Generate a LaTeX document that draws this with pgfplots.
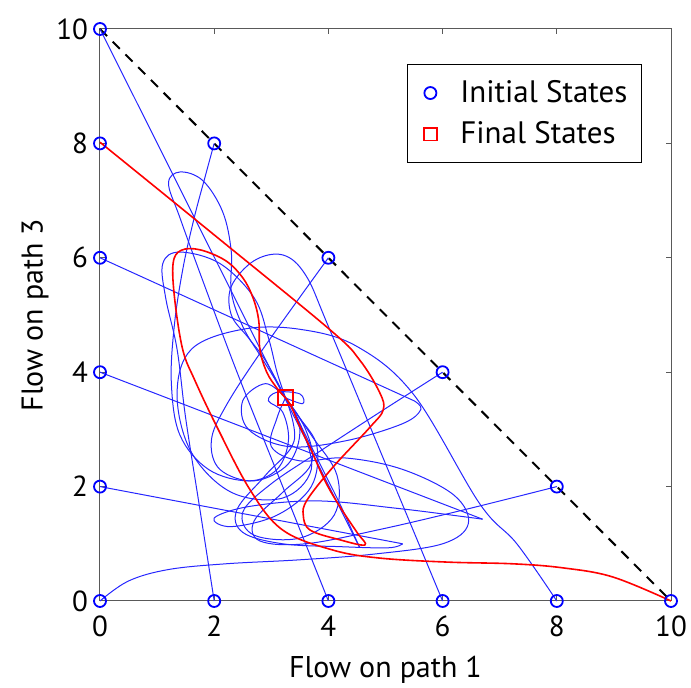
\documentclass[border=0pt]{standalone}
\usepackage{fontspec}
\setmainfont{PT Sans}
\usepackage{pgfplots}
\pgfplotsset{compat=1.18}
\begin{document}
\begin{tikzpicture}
\useasboundingbox (-50pt,-43.5pt) rectangle (295.5pt,300.5pt);
\begin{axis}[
  at={(0,0)}, anchor=south west,
  scale only axis, width=285.5pt, height=286pt,
  xmin=0, xmax=10, ymin=0, ymax=10,
  xtick={0,2,...,10}, ytick={0,2,...,10},
  tick align=inside, major tick length=2.5pt,
  axis line style={black!65, line width=0.5pt},
  every tick/.style={black!65, line width=0.5pt},
  clip=false,
  /pgf/number format/assume math mode=true,
  ticklabel style={font=\fontsize{14.5}{16}\selectfont},
  xticklabel style={yshift=-4pt},
  yticklabel style={xshift=-2.5pt},
  xlabel={Flow on path 1}, ylabel={Flow on path 3},
  label style={font=\fontsize{15}{17}\selectfont},
  xlabel style={at={(axis description cs:0.5,-0.1206)}, anchor=center},
  ylabel style={at={(axis description cs:-0.1138,0.5)}, anchor=center, rotate=0},
  legend style={at={(axis description cs:0.9492,0.9388)}, anchor=north east,
    draw=black, line width=0.5pt, inner xsep=5pt, inner ysep=6pt,
    font=\fontsize{15.5}{18}\selectfont, row sep=4pt,
    /tikz/every odd column/.style={column sep=4pt}},
  legend image code/.code={\path (0.09cm,0) (0.6cm,0); \draw[#1] plot coordinates {(0.3cm,0cm)};},
  legend cell align=left,
]
\addlegendimage{only marks, mark=o, blue, mark size=3pt, line width=0.9pt}
\addlegendentry{Initial States}
\addlegendimage{only marks, mark=square, red, mark size=3.2pt, line width=0.8pt}
\addlegendentry{Final States}

% dashed simplex edge
\addplot[forget plot, black, line width=1pt, dash pattern=on 5pt off 4pt] coordinates {(0,10) (10,0)};

% blue trajectories
\pgfplotsset{btraj/.style={forget plot, blue!85!white, line width=0.5pt, smooth, tension=0.6}}
% from (0,10)
\addplot[btraj, sharp plot] coordinates {(0,10) (4.55,0.93)};
\addplot[btraj] coordinates {(4.55,0.93) (4.45,1.15) (4.2,1.7) (3.9,2.3) (3.6,2.9) (3.4,3.3) (3.25,3.55)};
% from (2,8)
\addplot[btraj] coordinates {(2,8) (1.85,7.45) (1.65,6.7) (1.45,5.8) (1.3,4.8) (1.25,3.8) (1.4,2.9) (1.9,2.3) (2.6,2.1) (3.1,2.3) (3.3,2.8) (3.2,3.3) (2.95,3.5) (3.1,3.65) (3.5,3.62) (3.55,3.45) (3.25,3.55)};
% from (4,0)
\addplot[btraj] coordinates {(4,0) (3.2,2.0) (2.4,4.0) (1.8,5.6) (1.4,6.7) (1.2,7.3) (1.4,7.5) (1.8,7.35) (2.15,6.8) (2.3,6.1) (2.3,5.4) (2.5,4.8) (2.8,4.3) (3.05,3.9) (3.25,3.55)};
% from (6,0)
\addplot[btraj] coordinates {(6,0) (5.0,2.4) (4.0,4.8) (3.6,5.7) (3.2,6.05) (2.7,5.95) (2.3,5.5) (2.3,5.0) (2.6,4.6) (2.9,4.2) (3.25,3.55)};
% from (8,0)
\addplot[btraj] coordinates {(8,0) (7.3,1.0) (6.65,1.7) (5.5,3.6) (4.5,4.45) (3.5,4.75) (2.5,4.75) (1.6,4.4) (1.35,3.6) (1.6,2.6) (2.3,1.9) (3.2,1.8) (3.7,2.3) (3.5,3.1) (3.25,3.55)};
% from (0,6)
\addplot[btraj, sharp plot] coordinates {(0,6) (5.5,3.5)};
\addplot[btraj] coordinates {(5.5,3.5) (5.62,3.35) (5.3,3.1) (4.3,2.8) (3.3,2.7) (2.6,3.0) (2.5,3.5) (2.9,3.8) (3.25,3.55)};
% from (0,4)
\addplot[btraj, sharp plot] coordinates {(0,4) (6.7,1.43)};
\addplot[btraj] coordinates {(6.7,1.43) (6.4,1.47) (5.2,1.62) (3.8,1.75) (2.6,1.65) (2.0,1.45) (2.3,1.3) (3.1,1.5) (3.7,2.0) (3.8,2.7) (3.5,3.2) (3.25,3.55)};
% from (0,2)
\addplot[btraj, sharp plot] coordinates {(0,2) (5.3,1.0)};
\addplot[btraj] coordinates {(5.3,1.0) (5.05,0.93) (4.2,0.95) (3.2,1.0) (2.5,1.2) (2.4,1.6) (2.9,2.2) (3.4,2.8) (3.25,3.55)};
% from (0,0)
\addplot[btraj] coordinates {(0,0) (0.5,0.35) (1.2,0.55) (2.2,0.65) (3.5,0.72) (4.8,0.82) (6.0,1.0) (6.45,1.35) (6.2,1.85) (5.3,2.3) (4.3,2.5) (3.5,2.45) (3.0,2.7) (3.1,3.2) (3.25,3.55)};
% from (2,0)
\addplot[btraj] coordinates {(2,0) (1.75,1.6) (1.5,3.2) (1.35,4.4) (1.15,5.3) (1.1,5.9) (1.4,6.1) (2.1,5.9) (2.7,5.3) (2.95,4.6) (3.1,4.0) (3.25,3.55)};
% from (4,6)
\addplot[btraj] coordinates {(4,6) (2.85,4.4) (2.2,3.4) (1.95,2.8) (2.1,2.3) (2.7,2.1) (3.3,2.4) (3.5,3.0) (3.25,3.55)};
% from (6,4)
\addplot[btraj] coordinates {(6,4) (4.9,3.3) (3.9,2.65) (3.0,2.05) (2.5,1.55) (2.7,1.15) (3.5,1.1) (4.1,1.5) (4.15,2.2) (3.7,2.9) (3.25,3.55)};
% from (8,2)
\addplot[btraj] coordinates {(8,2) (6.4,1.6) (4.9,1.25) (3.6,1.0) (2.8,1.05) (2.7,1.4) (3.2,1.9) (3.7,2.4) (3.6,3.0) (3.25,3.55)};

% red trajectories
\pgfplotsset{rtraj/.style={forget plot, red, line width=0.8pt, smooth, tension=0.6}}
\addplot[rtraj] coordinates {(0,8.02) (2.0,6.4) (4.03,4.74) (4.55,4.21) (4.9,3.64) (4.96,3.34) (4.73,3.04) (4.08,2.34) (3.63,1.77) (3.56,1.5) (3.68,1.24) (4.2,1.07) (4.64,0.98) (4.5,1.2) (4.2,1.65) (3.94,2.1) (3.68,2.68) (3.5,3.05) (3.35,3.4) (3.25,3.55)};
\addplot[rtraj] coordinates {(10,0) (8.98,0.42) (8.1,0.58) (7.23,0.65) (6.08,0.68) (4.9,0.75) (4.08,0.89) (3.2,1.24) (2.63,1.94) (2.05,3.04) (1.66,3.86) (1.45,4.39) (1.31,5.26) (1.28,5.9) (1.42,6.13) (1.75,6.14) (2.2,5.95) (2.5,5.65) (2.68,5.3) (2.78,4.9) (2.8,4.4) (2.92,4.0) (3.1,3.72) (3.25,3.55)};

% initial states
\addplot[forget plot, only marks, mark=o, blue, mark size=3pt, line width=0.9pt] coordinates {
(0,0) (2,0) (4,0) (6,0) (8,0) (10,0) (0,2) (0,4) (0,6) (0,8) (0,10) (2,8) (4,6) (6,4) (8,2)};
% final state
\addplot[forget plot, only marks, mark=square, red, mark size=3.75pt, line width=1pt] coordinates {(3.25,3.55)};
\end{axis}
\end{tikzpicture}
\end{document}
